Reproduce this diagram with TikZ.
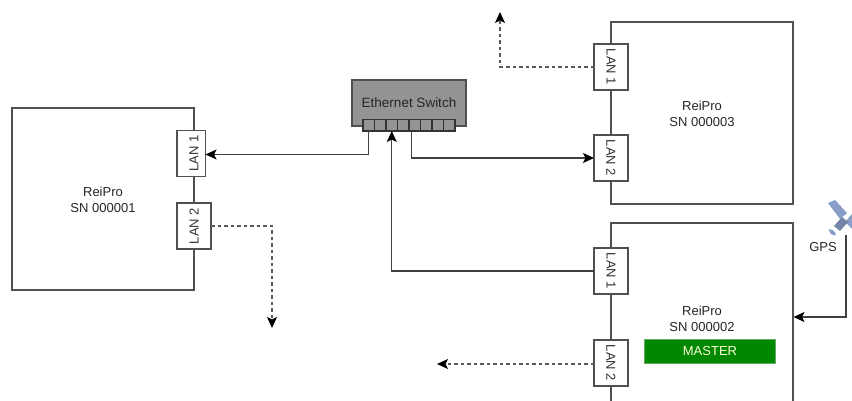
\documentclass[tikz,border=0pt]{standalone}
\usepackage{fontspec}
\setmainfont{Liberation Sans}
\usetikzlibrary{arrows.meta,positioning}
\definecolor{linegray}{RGB}{80,80,80}
\definecolor{satblue}{RGB}{135,158,200}
\definecolor{mastergreen}{RGB}{0,136,0}
\tikzset{
  every node/.append style = {outer sep=0pt},
  unitbox/.style = {draw=linegray,line width=1.5pt,fill=white,minimum width=182pt,minimum height=182pt},
  lanport/.style = {draw=linegray,line width=1.5pt,fill=white,minimum height=46pt,font=\fontsize{13}{13}\selectfont,text=black!80,inner sep=0pt},
  label/.style = {font=\fontsize{13}{16}\selectfont,align=center,text=black!85},
  edge/.style = {-{Stealth[length=11pt,width=10pt,inset=2.5pt,color=black]},black!75,line width=1.4pt},
  dashedge/.style = {edge,black!65,line width=1.4pt,dash pattern=on 3.5pt off 3pt},
}
\begin{document}
\begin{tikzpicture}[x=1pt,y=-1pt]
\useasboundingbox (0,0) rectangle (852,401);
% boxes
\node[unitbox,anchor=north west] (unit1) at (12,108) {};
\node[unitbox,anchor=north west] (unit3) at (611,22) {};
\begin{scope}
\clip (0,0) rectangle (852,401);
\node[unitbox,anchor=north west] (unit2) at (611,223) {};
\end{scope}
\node[label] (name1) at (103,199.5) {ReiPro\\SN 000001};
\node[label] (name3) at (702,113.5) {ReiPro\\SN 000003};
\node[label] (name2) at (702,318.5) {ReiPro\\SN 000002};
\node[fill=mastergreen,draw=green!45!black!60,minimum width=131pt,minimum height=24pt,inner sep=0pt,font=\fontsize{13}{13}\selectfont,text=yellow!15] (master) at (710,351) {MASTER};
% ports
\node[lanport,minimum width=28.5pt] (a1) at (191.3,153.5) {\hspace{5pt}\rotatebox{90}{LAN 1}};
\foreach \pos/\name/\txt/\rot in {(194,226)/a2/LAN 2/90,(611,67)/c1/LAN 1/-90,(611,158)/c2/LAN 2/-90,(611,271)/b1/LAN 1/-90,(611,363)/b2/LAN 2/-90}
\node[lanport,minimum width=34pt] (\name) at \pos {\rotatebox{\rot}{\txt}};
% switch
\node[draw=linegray,line width=1.5pt,fill=black!42,minimum width=114pt,minimum height=46pt,anchor=north west,label,font=\fontsize{13.5}{16}\selectfont,inner sep=0pt] (switch) at (352,80) {Ethernet Switch};
\foreach \i in {0,...,7}
\node[draw=black!80,line width=1.2pt,fill=black!42,minimum width=11.5pt,minimum height=11.5pt,inner sep=0pt,anchor=north west] (p\i) at (363+\i*11.5,119.5) {};
% gps
\fill[satblue] (828,203) -- (835,200) -- (847,213) -- (840,219) -- cycle;
\fill[satblue] (845,222) -- (852,214) -- (852,229) -- cycle;
\fill[satblue!85!black] (834,226) -- (842,217) -- (848,222) -- (840,231) -- cycle;
\fill[satblue] (829,229) .. controls (832,229) and (835,231) .. (836,235) .. controls (832,236) and (829,233) .. (829,229) -- cycle;
\node[label] (gps) at (823,247) {GPS};
\coordinate (satfoot) at (846,235);
\coordinate (a2end) at (272,328);
\coordinate (c1end) at (500,12);
\coordinate (b2end) at (437,364);
% links
\draw[edge] (p0.south) |- ([yshift=-1pt]a1.east);
\draw[edge] ([xshift=-3.5pt]p4.south) |- (c2.west);
\draw[edge] (b1.west) -| (p2.south);
\draw[dashedge] (a2.east) -| (a2end);
\draw[dashedge] (c1.west) -| (c1end);
\draw[dashedge] ([yshift=-1pt]b2.west) -- (b2end);
\draw[edge] (satfoot) |- (793.5,317);
\end{tikzpicture}
\end{document}
